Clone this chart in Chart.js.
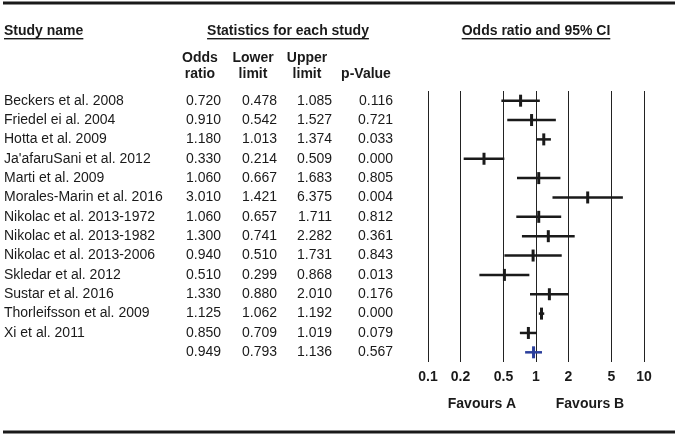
<!DOCTYPE html>
<html>
<head>
<meta charset="utf-8">
<script src="https://cdn.jsdelivr.net/npm/chart.js@4.4.1/dist/chart.umd.min.js"></script>
<style>
  html, body { margin: 0; padding: 0; background: #fff; }
  #wrap { width: 678px; height: 434px; position: relative; }
</style>
</head>
<body>
<div id="wrap"><canvas id="forestChart" width="678" height="434"></canvas></div>
<script>
// --- Data ---
const studies = [
    'Beckers et al. 2008',
    'Friedel ei al. 2004',
    'Hotta et al. 2009',
    "Ja'afaruSani et al. 2012",
    'Marti et al. 2009',
    'Morales-Marin et al. 2016',
    'Nikolac et al. 2013-1972',
    'Nikolac et al. 2013-1982',
    'Nikolac et al. 2013-2006',
    'Skledar et al. 2012',
    'Sustar et al. 2016',
    'Thorleifsson et al. 2009',
    'Xi et al. 2011',
    ''
];
const oddsRatio  = [0.720, 0.910, 1.180, 0.330, 1.060, 3.010, 1.060, 1.300, 0.940, 0.510, 1.330, 1.125, 0.850, 0.949];
const lowerLimit = [0.478, 0.542, 1.013, 0.214, 0.667, 1.421, 0.657, 0.741, 0.510, 0.299, 0.880, 1.062, 0.709, 0.793];
const upperLimit = [1.085, 1.527, 1.374, 0.509, 1.683, 6.375, 1.711, 2.282, 1.731, 0.868, 2.010, 1.192, 1.019, 1.136];
const pValue     = [0.116, 0.721, 0.033, 0.000, 0.805, 0.004, 0.812, 0.361, 0.843, 0.013, 0.176, 0.000, 0.079, 0.567];
const xTicks = [0.1, 0.2, 0.5, 1, 2, 5, 10];
const favoursLabels = ['Favours A', 'Favours B'];

const summaryIdx = studies.length - 1;
const INK = '#1a1a1a';
const BLUE = '#2b3f9c';
const FONT = '"Liberation Sans", Arial, sans-serif';

// --- Datasets ---
const ciSets = studies.map((s, i) => ({
    data: [{ x: lowerLimit[i], y: i }, { x: upperLimit[i], y: i }],
    showLine: true,
    borderColor: i === summaryIdx ? BLUE : INK,
    borderWidth: 2.5,
    pointRadius: 0,
    clip: false
}));

const markerSet = {
    data: oddsRatio.map((v, i) => ({ x: v, y: i })),
    pointStyle: 'line',
    rotation: 90,
    pointRadius: 6,
    pointBorderWidth: 3,
    pointBorderColor: oddsRatio.map((v, i) => i === summaryIdx ? BLUE : INK),
    showLine: false,
    clip: false
};

// --- Table + headers drawn on the same canvas ---
function underlined(ctx, text, x, y, align) {
    ctx.textAlign = align;
    ctx.fillText(text, x, y);
    const w = ctx.measureText(text).width;
    const x0 = align === 'center' ? x - w / 2 : x;
    ctx.fillRect(x0, y + 7, w, 1.4);
}

const tablePlugin = {
    id: 'table',
    afterDraw(chart) {
        const ctx = chart.ctx;
        const ys = chart.scales.y;
        const xs = chart.scales.x;
        ctx.save();
        ctx.fillStyle = INK;
        ctx.textBaseline = 'middle';

        // frame lines
        ctx.fillRect(3, 1.5, 672, 3);
        ctx.fillRect(3, 430.5, 672, 3);

        // headers
        ctx.font = 'bold 14px ' + FONT;
        underlined(ctx, 'Study name', 4, 31, 'left');
        underlined(ctx, 'Statistics for each study', 288, 31, 'center');
        underlined(ctx, 'Odds ratio and 95% CI', 536, 31, 'center');

        const cols = [
            { head: ['Odds', 'ratio'], cx: 200, rx: 221, vals: oddsRatio },
            { head: ['Lower', 'limit'], cx: 253, rx: 277, vals: lowerLimit },
            { head: ['Upper', 'limit'], cx: 307, rx: 332, vals: upperLimit },
            { head: ['', 'p-Value'], cx: 366, rx: 393, vals: pValue }
        ];
        ctx.textAlign = 'center';
        cols.forEach(c => {
            ctx.fillText(c.head[0], c.cx, 58);
            ctx.fillText(c.head[1], c.cx, 74);
        });

        // rows
        ctx.font = '14px ' + FONT;
        studies.forEach((name, i) => {
            const y = ys.getPixelForValue(i);
            ctx.textAlign = 'left';
            ctx.fillText(name, 4, y);
            ctx.textAlign = 'right';
            cols.forEach(c => ctx.fillText(c.vals[i].toFixed(3), c.rx, y));
        });

        // favours labels under the axis
        ctx.font = 'bold 14px ' + FONT;
        ctx.textAlign = 'center';
        ctx.fillText(favoursLabels[0], xs.getPixelForValue(Math.sqrt(xTicks[0] * 1)), 404);
        ctx.fillText(favoursLabels[1], xs.getPixelForValue(Math.sqrt(xTicks[xTicks.length - 1] * 1)), 404);
        ctx.restore();
    }
};

// --- Chart ---
const ctx = document.getElementById('forestChart').getContext('2d');
const forestChart = new Chart(ctx, {
    type: 'scatter',
    data: { datasets: [...ciSets, markerSet] },
    options: {
        responsive: false,
        animation: false,
        layout: { padding: { left: 428, right: 34, top: 91, bottom: 0 } },
        scales: {
            x: {
                type: 'logarithmic',
                min: 0.1,
                max: 10,
                afterBuildTicks: (scale) => { scale.ticks = xTicks.map(v => ({ value: v })); },
                afterFit: (scale) => { scale.height = 72; },
                ticks: {
                    callback: (v) => String(v),
                    color: INK,
                    padding: 7,
                    maxRotation: 0,
                    autoSkip: false,
                    font: { family: FONT, size: 14, weight: 'bold' }
                },
                grid: { color: '#222', lineWidth: 1, drawTicks: false },
                border: { display: false }
            },
            y: {
                type: 'linear',
                min: -0.5,
                max: studies.length - 0.5,
                reverse: true,
                display: false
            }
        },
        plugins: { legend: { display: false }, tooltip: { enabled: false } }
    },
    plugins: [tablePlugin]
});
</script>
</body>
</html>
